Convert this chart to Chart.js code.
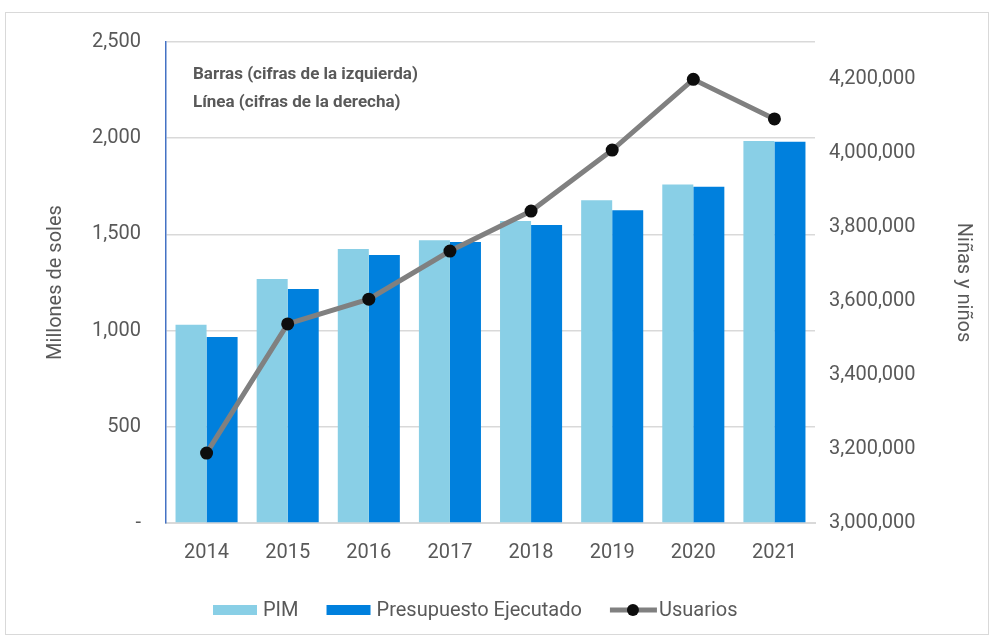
<!DOCTYPE html>
<html>
<head>
<meta charset="utf-8">
<script src="https://cdn.jsdelivr.net/npm/chart.js@4/dist/chart.umd.min.js"></script>
<style>
  html, body { margin: 0; padding: 0; background: #fff; }
  #wrap { width: 993px; height: 639px; }
</style>
</head>
<body>
<div id="wrap"><canvas id="chart" width="993" height="639"></canvas></div>
<script>
// ── datos ──
const anios        = ['2014', '2015', '2016', '2017', '2018', '2019', '2020', '2021'];
const pim          = [1030, 1268, 1424, 1470, 1570, 1677, 1760, 1985];
const ejecutado    = [967, 1216, 1393, 1460, 1549, 1625, 1748, 1982];
const usuarios     = [3189000, 3538000, 3605000, 3735000, 3843000, 4008000, 4199000, 4092000];
const ticksIzq     = [0, 500, 1000, 1500, 2000, 2500];
const ticksDer     = [3000000, 3200000, 3400000, 3600000, 3800000, 4000000, 4200000];
const notaTexto    = ['Barras (cifras de la izquierda)', 'Línea (cifras de la derecha)'];

const GRIS_TXT = '#595959';
const FONT = 'Roboto, "Open Sans", sans-serif';

const fmt = v => Number(v).toLocaleString('en-US');

// marco, nota y leyenda dibujados a mano
const extras = {
  id: 'extras',
  beforeDraw(chart) {
    const c = chart.ctx;
    c.save();
    c.fillStyle = '#fff';
    c.fillRect(0, 0, chart.width, chart.height);
    c.strokeStyle = '#D9D9D9';
    c.lineWidth = 1;
    c.strokeRect(5.5, 12.5, 983, 622);
    c.restore();
  },
  afterDraw(chart) {
    const c = chart.ctx;
    c.save();
    c.fillStyle = GRIS_TXT;
    c.font = 'bold 17px ' + FONT;
    c.textBaseline = 'middle';
    c.fillText(notaTexto[0], 193, 75);
    c.fillText(notaTexto[1], 193, 103);

    // leyenda
    const y = 610;
    let x = 213;
    c.font = '20px ' + FONT;
    chart.data.datasets.forEach(d => {
      if (d.type === 'line') {
        c.strokeStyle = d.borderColor;
        c.lineWidth = 5;
        c.beginPath(); c.moveTo(x, y); c.lineTo(x + 47, y); c.stroke();
        c.fillStyle = d.pointBackgroundColor;
        c.beginPath(); c.arc(x + 23, y, 6, 0, Math.PI * 2); c.fill();
        x += 49;
      } else {
        c.fillStyle = d.backgroundColor;
        c.fillRect(x, y - 5, 44, 10);
        x += 50;
      }
      c.fillStyle = GRIS_TXT;
      c.fillText(d.label, x, y + 1);
      x += c.measureText(d.label).width + 28;
    });
    c.restore();
  }
};

new Chart(document.getElementById('chart'), {
  type: 'bar',
  data: {
    labels: anios,
    datasets: [
      { label: 'PIM', data: pim, backgroundColor: '#89CFE6', yAxisID: 'y', order: 1,
        barPercentage: 1, categoryPercentage: 0.765 },
      { label: 'Presupuesto Ejecutado', data: ejecutado, backgroundColor: '#0080DD', yAxisID: 'y', order: 1,
        barPercentage: 1, categoryPercentage: 0.765 },
      { label: 'Usuarios', type: 'line', data: usuarios, yAxisID: 'y2', order: 0,
        borderColor: '#808080', borderWidth: 5, pointRadius: 6.5, pointHoverRadius: 6.5,
        pointBackgroundColor: '#0D0D0D', pointBorderColor: '#0D0D0D', pointBorderWidth: 0,
        tension: 0, fill: false }
    ]
  },
  options: {
    responsive: false,
    animation: false,
    events: [],
    layout: { padding: { top: 42, right: 0, bottom: 56, left: 0 } },
    plugins: {
      legend: { display: false },
      tooltip: { enabled: false }
    },
    scales: {
      x: {
        grid: { display: false, drawTicks: false },
        border: { color: '#D9D9D9', width: 2 },
        ticks: { color: GRIS_TXT, font: { family: FONT, size: 20 }, padding: 18 },
        afterFit: s => { s.height = 60; }
      },
      y: {
        position: 'left',
        min: 0, max: 2500,
        grid: { color: '#D9D9D9', lineWidth: 1.5, drawTicks: false },
        border: { color: '#4472C4', width: 1.5 },
        ticks: { color: GRIS_TXT, font: { family: FONT, size: 20 }, padding: 25,
          callback: v => v === 0 ? '-' : fmt(v) },
        afterBuildTicks: s => { s.ticks = ticksIzq.map(v => ({ value: v })); },
        title: { display: true, text: 'Millones de soles', color: GRIS_TXT,
          font: { family: FONT, size: 20 }, padding: 44 },
        afterFit: s => { s.width = 166; }
      },
      y2: {
        position: 'right',
        min: 3000000, max: 4300000,
        grid: { display: false, drawTicks: false },
        border: { display: false },
        ticks: { color: GRIS_TXT, font: { family: FONT, size: 20 }, padding: 14,
          callback: v => fmt(v) },
        afterBuildTicks: s => { s.ticks = ticksDer.map(v => ({ value: v })); },
        title: { display: true, text: 'Niñas y niños', color: GRIS_TXT,
          font: { family: FONT, size: 20 }, padding: 18 },
        afterFit: s => { s.width = 178; }
      }
    }
  },
  plugins: [extras]
});
</script>
</body>
</html>
